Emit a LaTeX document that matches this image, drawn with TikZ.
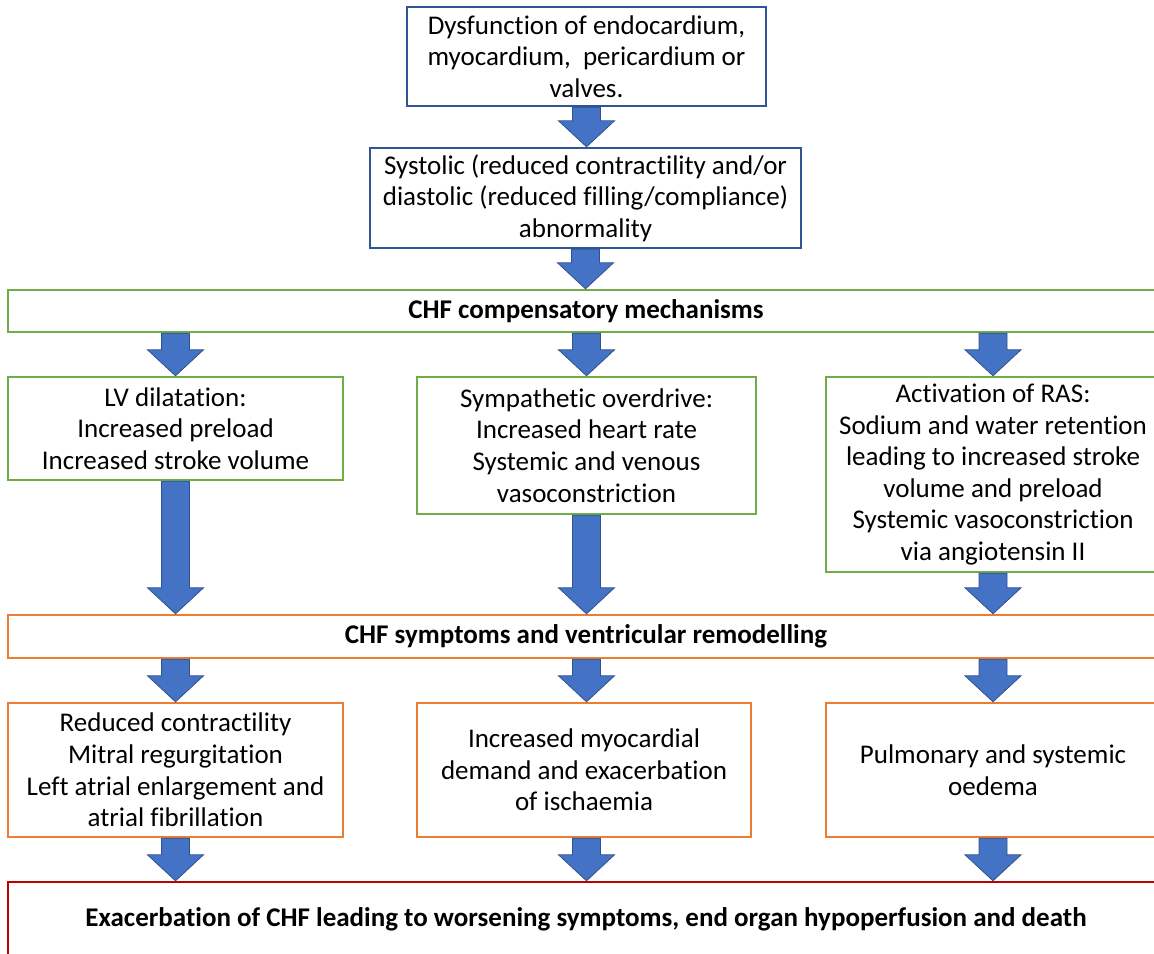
\documentclass[tikz,border=0pt]{standalone}
\usepackage{fontspec}
\setmainfont[RawFeature={-liga;-clig;-calt}]{Carlito}
\usetikzlibrary{positioning}
\usetikzlibrary{calc}

\definecolor{boxblue}{HTML}{2F5597}
\definecolor{boxgreen}{HTML}{70AD47}
\definecolor{boxorange}{HTML}{ED7D31}
\definecolor{boxred}{HTML}{C00000}
\definecolor{arrowfill}{HTML}{4472C4}
\definecolor{arrowedge}{HTML}{2F528F}

\tikzset{
  box/.style={draw, line width=1.2pt, align=center, inner sep=0pt,
    font=\fontsize{13.5}{15.8}\selectfont},
  bluebox/.style={box, draw=boxblue},
  greenbox/.style={box, draw=boxgreen},
  orangebox/.style={box, draw=boxorange},
  redbox/.style={box, draw=boxred},
  flowarrow/.style={fill=arrowfill, draw=arrowedge, line width=0.4pt,
    to path={let \p1=(\tikztostart), \p2=(\tikztotarget) in
      (\x1-7pt,\y1) -- (\x1+7pt,\y1) -- (\x1+7pt,\y2+13pt) -- (\x1+14pt,\y2+13pt)
      -- (\x1,\y2) -- (\x1-14pt,\y2+13pt) -- (\x1-7pt,\y2+13pt) -- cycle}}
}

\begin{document}
\begin{tikzpicture}[x=0.5pt,y=-0.5pt]
  \path[use as bounding box, clip] (0,0) rectangle (1154,953);

  %---------------- cause ----------------
  \node[bluebox, minimum width=179.5pt, minimum height=49.5pt] (dysf) at (586.5,56.5)
    {Dysfunction of endocardium,\\ myocardium,\ \ pericardium or\\ valves.};
  \node[bluebox, minimum width=215.5pt, minimum height=50pt] (syst) at (585.5,198)
    {Systolic (reduced contractility and/or\\ diastolic (reduced filling/compliance)\\ abnormality};

  %---------------- compensation ----------------
  \node[greenbox, minimum width=578pt, minimum height=21pt] (comp) at (586,311)
    {\bfseries CHF compensatory mechanisms};
  \node[greenbox, minimum width=167.5pt, minimum height=51.5pt] (lvdil) at (175.5,428.5)
    {LV dilatation:\\ Increased preload\\ Increased stroke volume};
  \node[greenbox, minimum width=169.5pt, minimum height=68.5pt] (symp) at (586.5,445.5)
    {Sympathetic overdrive:\\ Increased heart rate\\ Systemic and venous\\ vasoconstriction};
  \node[greenbox, minimum width=167pt, minimum height=97.5pt] (ras) at (993,474.5)
    {Activation of RAS:\\ Sodium and water retention\\ leading to increased stroke\\ volume and preload\\ Systemic vasoconstriction\\ via angiotensin II};

  %---------------- symptoms ----------------
  \node[orangebox, minimum width=578pt, minimum height=21.5pt] (sympt) at (586,636.5)
    {\bfseries CHF symptoms and ventricular remodelling};
  \node[orangebox, minimum width=167.5pt, minimum height=67pt] (reduc) at (175.5,770)
    {Reduced contractility\\ Mitral regurgitation\\ Left atrial enlargement and\\ atrial fibrillation};
  \node[orangebox, minimum width=167pt, minimum height=67pt] (ischa) at (584,770)
    {Increased myocardial\\ demand and exacerbation\\ of ischaemia};
  \node[orangebox, minimum width=167pt, minimum height=67pt] (oedem) at (993,770)
    {Pulmonary and systemic\\ oedema};

  %---------------- outcome ----------------
  \node[redbox, minimum width=578pt, minimum height=37pt] (exac) at (586,919)
    {\bfseries Exacerbation of CHF leading to worsening symptoms, end organ hypoperfusion and death};

  %---------------- arrows ----------------
  \draw[flowarrow] (dysf.south) to (syst.north);
  \draw[flowarrow] (syst.south) to (comp.north);
  \draw[flowarrow] (comp.south -| lvdil.north) to (lvdil.north);
  \draw[flowarrow] (comp.south -| symp.north) to (symp.north);
  \draw[flowarrow] (comp.south -| ras.north) to (ras.north);
  \draw[flowarrow] (lvdil.south) to (sympt.north -| lvdil.south);
  \draw[flowarrow] (symp.south) to (sympt.north -| symp.south);
  \draw[flowarrow] (ras.south) to (sympt.north -| ras.south);
  \draw[flowarrow] (sympt.south -| reduc.north) to (reduc.north);
  \draw[flowarrow] (sympt.south -| symp.north) to (ischa.north -| symp.north);
  \draw[flowarrow] (sympt.south -| oedem.north) to (oedem.north);
  \draw[flowarrow] (reduc.south) to (exac.north -| reduc.south);
  \draw[flowarrow] (ischa.south -| symp.south) to (exac.north -| symp.south);
  \draw[flowarrow] (oedem.south) to (exac.north -| oedem.south);
\end{tikzpicture}
\end{document}
